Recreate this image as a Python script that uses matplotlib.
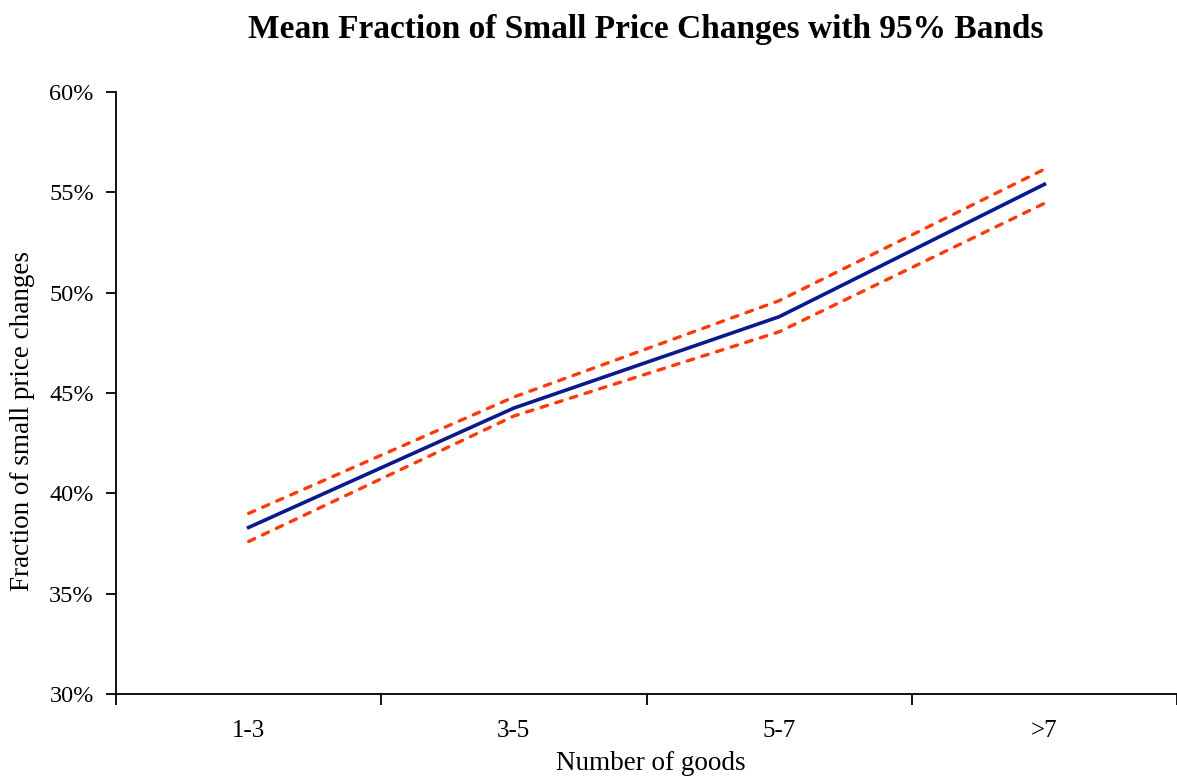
import matplotlib.pyplot as plt
from matplotlib.ticker import FixedLocator, FuncFormatter

# data (percent)
categories = ["1-3", "3-5", "5-7", ">7"]
mean_frac = [38.3, 44.25, 48.8, 55.4]
upper_band = [39.0, 44.8, 49.6, 56.15]
lower_band = [37.6, 43.85, 48.05, 54.45]

plt.rcParams['font.family'] = ['Liberation Serif', 'DejaVu Serif']

W, H = 1177, 782
fig = plt.figure(figsize=(W / 100, H / 100), dpi=100)
ax = fig.add_axes([116 / W, 1 - 694 / H, 1 - 116 / W, (694 - 92) / H])

x = list(range(len(categories)))
band_style = dict(color='#FF3A0A', lw=2.4, ls=(0, (2.0, 2.6)), dash_capstyle='round')
ax.plot(x, upper_band, **band_style)
ax.plot(x, lower_band, **band_style)
ax.plot(x, mean_frac, color='#0A1A8C', lw=2.6)

ax.set_xlim(-0.5, 3.5)
ax.set_ylim(30, 60)
ax.xaxis.set_major_locator(FixedLocator([-0.5, 0.5, 1.5, 2.5, 3.5]))
ax.xaxis.set_minor_locator(FixedLocator(x))
ax.xaxis.set_major_formatter(FuncFormatter(lambda v, p: ""))
ax.xaxis.set_minor_formatter(FuncFormatter(lambda v, p: categories[int(round(v))]))
ax.tick_params(axis='x', which='minor', length=0, pad=19, labelsize=18)
ax.tick_params(axis='x', which='major', length=8, width=1.3, direction='out')
ax.set_yticks([30, 35, 40, 45, 50, 55, 60])
ax.yaxis.set_major_formatter(FuncFormatter(lambda v, p: f"{v:.0f}%"))
ax.tick_params(axis='y', length=7, width=1.3, labelsize=17.5, pad=9)

for s in ['top', 'right']:
    ax.spines[s].set_visible(False)
for s in ['left', 'bottom']:
    ax.spines[s].set_linewidth(1.3)

# axis titles placed like the original (y title sits a bit low)
fig.text(651 / W, 1 - 770 / H, "Number of goods", ha='center', va='baseline', fontsize=19.5)
fig.text(23 / W, 1 - 421 / H, "Fraction of small price changes", ha='center', va='center',
         rotation=90, fontsize=19.5)
fig.text(0.549, 0.962, "Mean Fraction of Small Price Changes with 95% Bands",
         ha='center', va='center', fontsize=24, fontweight='bold')

fig.savefig("out.png", dpi=100)
